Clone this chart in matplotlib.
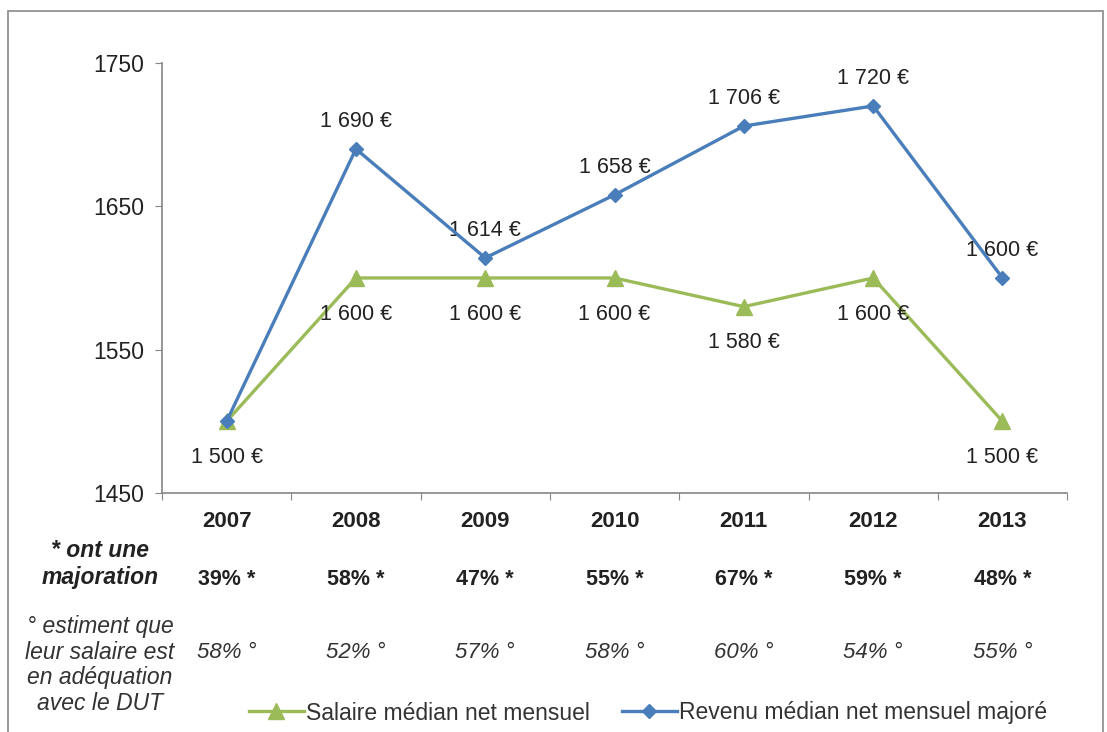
import matplotlib.pyplot as plt
from matplotlib.patches import Rectangle
from matplotlib.lines import Line2D

plt.rcParams['font.family'] = ['Liberation Sans', 'DejaVu Sans']

years = ['2007', '2008', '2009', '2010', '2011', '2012', '2013']
salaire = [1500, 1600, 1600, 1600, 1580, 1600, 1500]
revenu = [1500, 1690, 1614, 1658, 1706, 1720, 1600]
majoration = ['39%', '58%', '47%', '55%', '67%', '59%', '48%']
adequation = ['58%', '52%', '57%', '58%', '60%', '54%', '55%']

green = '#9BBB59'
blue = '#4A7EBB'
axis_grey = '#868686'
text_col = '#222222'

def euro(v):
    return f'{v // 1000} {v % 1000:03d} €'

fig = plt.figure(figsize=(11.07, 7.32), dpi=100)
ax = fig.add_axes([0.1463, 0.3265, 0.8177, 0.5875])

x = list(range(len(years)))
ax.plot(x, salaire, color=green, lw=2.4, marker='^', ms=11, zorder=3)
ax.plot(x, revenu, color=blue, lw=2.4, marker='D', ms=7, zorder=4)

# data labels: salary below, income above (2007 income label hidden under salary's)
for i, v in enumerate(salaire):
    ax.annotate(euro(v), (i, v), xytext=(0, -26), textcoords='offset points',
                ha='center', va='center', fontsize=15.5, color=text_col)
for i, v in enumerate(revenu):
    if i == 0:
        continue
    ax.annotate(euro(v), (i, v), xytext=(0, 20), textcoords='offset points',
                ha='center', va='center', fontsize=15.5, color=text_col)

ax.set_xlim(-0.5, len(years) - 0.5)
ax.set_ylim(1450, 1750)
ax.set_yticks([1450, 1550, 1650, 1750])
ax.tick_params(axis='y', labelsize=16.5, labelcolor=text_col, length=5,
               color=axis_grey, pad=8)
ax.set_xticks([i - 0.5 for i in range(len(years) + 1)])
ax.set_xticklabels([])
ax.set_xticks(x, minor=True)
ax.set_xticklabels(years, minor=True, fontsize=16, fontweight='bold', color=text_col)
ax.tick_params(axis='x', which='major', length=5, color=axis_grey)
ax.tick_params(axis='x', which='minor', length=0, pad=13)
for s in ['top', 'right']:
    ax.spines[s].set_visible(False)
for s in ['left', 'bottom']:
    ax.spines[s].set_color(axis_grey)
    ax.spines[s].set_linewidth(1.2)

# rows under the chart
trans = ax.get_xaxis_transform()
for i in x:
    ax.text(i, -0.2, majoration[i] + ' *', transform=trans, ha='center', va='center',
            fontsize=15.5, fontweight='bold', color=text_col)
    ax.text(i, -0.37, adequation[i] + ' °', transform=trans, ha='center', va='center',
            fontsize=16, style='italic', color='#333333')

fig.text(100 / 1107, 1 - 564 / 732, '* ont une\nmajoration', ha='center', va='center',
         fontsize=16.5, fontweight='bold', style='italic', color=text_col, linespacing=1.2)
fig.text(100 / 1107, 1 - 665 / 732, '° estiment que\nleur salaire est\nen adéquation\navec le DUT',
         ha='center', va='center', fontsize=16.5, style='italic', color='#333333',
         linespacing=1.15)

handles = [Line2D([], [], color=green, lw=2.4, marker='^', ms=11),
           Line2D([], [], color=blue, lw=2.4, marker='D', ms=7)]
fig.legend(handles, ['Salaire médian net mensuel', 'Revenu médian net mensuel majoré'],
           loc='center', bbox_to_anchor=(648 / 1107, 1 - 713 / 732), ncol=2,
           frameon=False, fontsize=16.5, handlelength=2.4, handletextpad=0.1,
           columnspacing=1.4, labelcolor='#333333')

fig.add_artist(Rectangle((8 / 1107, -0.1), 1095 / 1107, 1.1 - 11 / 732,
                         transform=fig.transFigure, fill=False, ec='#8a8a8a', lw=1.2))

fig.savefig('out.png', dpi=100)
